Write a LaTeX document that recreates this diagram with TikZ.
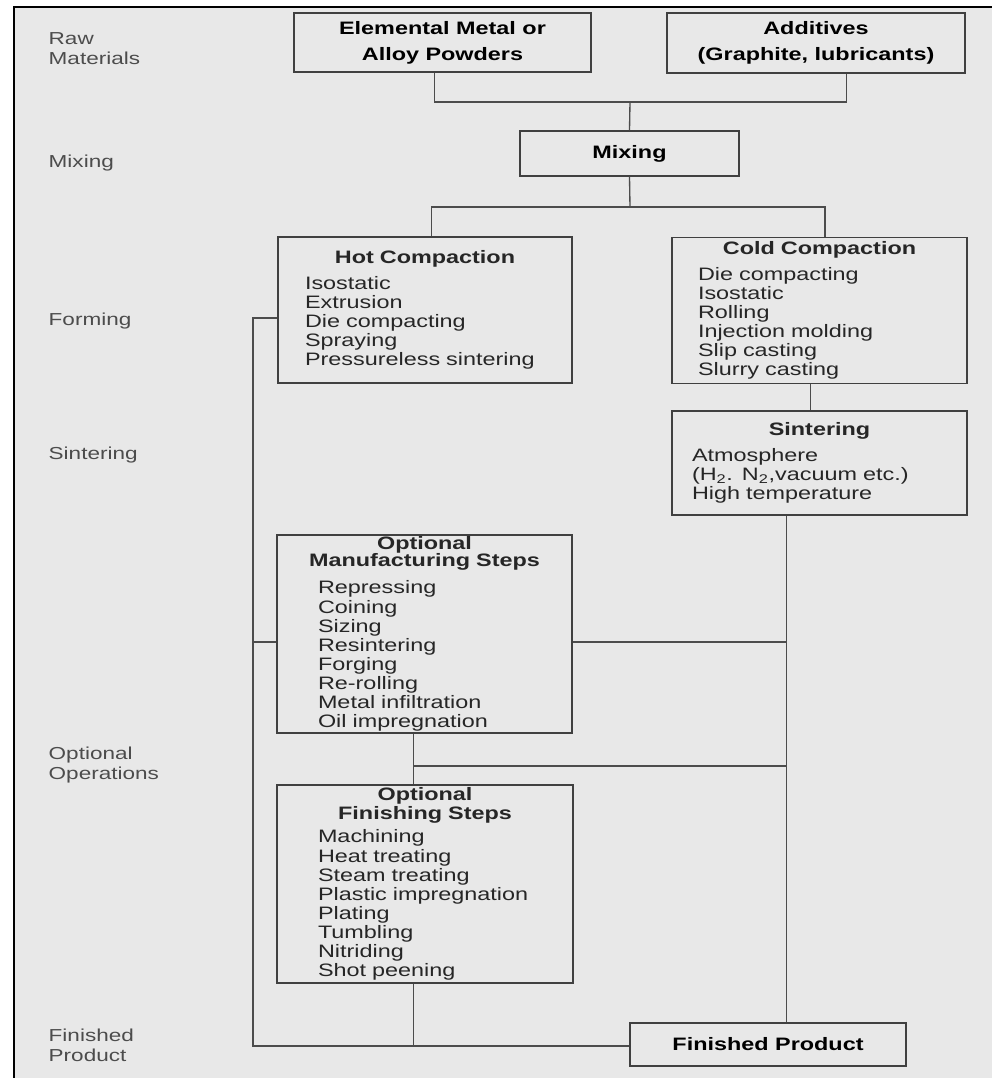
\documentclass[tikz,border=0pt]{standalone}
\usepackage{fontspec}
\setmainfont{Liberation Sans}[FakeStretch=1.3]
\definecolor{paper}{HTML}{E8E8E8}
\newcommand{\stagehead}[1]{\makebox[\linewidth]{\bfseries #1}}

\begin{document}
\begin{tikzpicture}[x=0.75pt, y=-0.75pt,
  stage/.style={draw=black!75, line width=1.1pt, font=\fontsize{13.5}{19.5}\selectfont\bfseries, align=center, inner sep=0pt},
  listbox/.style={draw=black!75, line width=1.1pt, font=\fontsize{13.5}{14.3}\selectfont, align=left, inner ysep=0pt, text=black!85},
  rowlabel/.style={anchor=west, align=left, text=black!70, font=\fontsize{13}{15}\selectfont},
  link/.style={draw=black!70, line width=1pt}]

  \useasboundingbox (0,0) rectangle (992,1078);
  \fill[paper] (14,7) rectangle (992,1078);
  \draw[line width=1.5pt] (14,1078) -- (14,7) -- (992,7);

  % Row labels
  \node[rowlabel] (lraw) at (44,49) {Raw\\Materials};
  \node[rowlabel] (lmix) at (44,163) {Mixing};
  \node[rowlabel] (lform) at (44,321) {Forming};
  \node[rowlabel] (lsint) at (44,455) {Sintering};
  \node[rowlabel] (lopt) at (44,765) {Optional\\Operations};
  \node[rowlabel] (lfin) at (44,1045) {Finished\\Product};

  % Raw materials and mixing
  \node[stage, minimum width=222.75pt, minimum height=44.25pt] (metal) at (442.5,42.5) {Elemental Metal or\\Alloy Powders};
  \node[stage, minimum width=223.5pt, minimum height=45pt] (additives) at (816,43) {Additives\\(Graphite, lubricants)};
  \node[stage, minimum width=164.25pt, minimum height=33.75pt] (mix) at (629.5,153.5) {Mixing};

  % Forming
  \node[listbox, text width=180pt, inner xsep=20.25pt, minimum height=109.5pt] (hot) at (425,310) {\stagehead{Hot Compaction}\\[5.5pt]
    Isostatic\\Extrusion\\Die compacting\\Spraying\\Pressureless sintering};
  \node[listbox, text width=182.25pt, inner xsep=19.5pt, minimum height=109.5pt] (cold) at (819.5,310.5) {\stagehead{Cold Compaction}\\[5pt]
    Die compacting\\Isostatic\\Rolling\\Injection molding\\Slip casting\\Slurry casting};

  % Sintering
  \node[listbox, text width=191.25pt, inner xsep=15pt, minimum height=78pt] (sinter) at (819.5,463) {\stagehead{Sintering}\\[5pt]
    Atmosphere\\(H\textsubscript{2}. N\textsubscript{2},vacuum etc.)\\High temperature};

  % Optional operations
  \node[listbox, text width=159.75pt, inner xsep=30.75pt, minimum height=148.5pt] (manuf) at (424.5,634) {\stagehead{Optional}\\[-1.5pt]\stagehead{Manufacturing Steps}\\[6pt]
    Repressing\\Coining\\Sizing\\Resintering\\Forging\\Re-rolling\\Metal infiltration\\Oil impregnation};
  \node[listbox, text width=160.5pt, inner xsep=30.75pt, minimum height=148.5pt] (finish) at (425,884) {\stagehead{Optional}\\[0pt]\stagehead{Finishing Steps}\\[3pt]
    Machining\\Heat treating\\Steam treating\\Plastic impregnation\\Plating\\Tumbling\\Nitriding\\Shot peening};

  % Finished product
  \node[stage, minimum width=207pt, minimum height=32.25pt] (final) at (768,1044.5) {Finished Product};

  % Junction points
  \coordinate (feed) at (630,102);
  \coordinate (split) at (630,207);
  \coordinate (rail) at (253,1046);
  \coordinate (opsrow) at (600,766);
  \coordinate (h1) at ([yshift=-6pt]hot.west);
  \coordinate (m1) at ([yshift=-6pt]manuf.west);
  \coordinate (m2) at ([xshift=-8.5pt]manuf.south);
  \coordinate (s1) at ([xshift=-25pt]sinter.south);

  % Top connectors
  \draw[link] ([xshift=-6pt]metal.south) |- (feed) -| ([xshift=23pt]additives.south);
  \draw[link] (feed) -- (mix.north);
  \draw[link] (mix.south) -- (split);
  \draw[link] ([xshift=5pt]hot.north) |- (split) -| ([xshift=4pt]cold.north);
  \draw[link] ([xshift=-7pt]cold.south) -- ([xshift=-7pt]sinter.north);

  % Left rail
  \draw[link] (h1) -| (rail) -- (rail -| final.west);
  \draw[link] (m1) -- (m1 -| rail);

  % Right rail
  \draw[link] (s1) -- (s1 |- final.north);
  \draw[link] (m1 -| manuf.east) -- (m1 -| s1);

  % Optional steps
  \draw[link] (m2) -- (m2 |- finish.north);
  \draw[link] (m2 |- opsrow) -- (s1 |- opsrow);
  \draw[link] (m2 |- finish.south) -- (m2 |- rail);

\end{tikzpicture}
\end{document}
